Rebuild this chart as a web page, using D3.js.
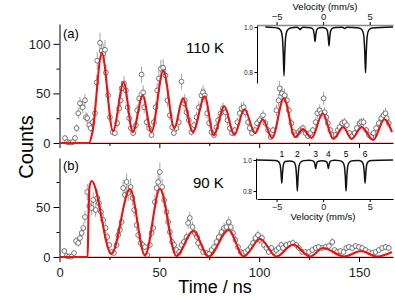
<!DOCTYPE html>
<html>
<head>
<meta charset="utf-8">
<script src="https://cdn.jsdelivr.net/npm/d3@7"></script>
<style>
  body { margin: 0; background: #fff; }
  svg { display: block; font-family: "Liberation Sans", Arial, sans-serif; }
</style>
</head>
<body>
<div id="app"></div>
<script>
// time (ns), counts - 110 K
const pointsA = [
  [2.75,5],[3.75,1],[4.75,0.5],[5.75,0.5],[6.75,1],[7.75,5],[8.6,15],[9.4,30],[10.25,40],[11.6,36],
  [12.75,43],[13.25,26],[13.9,25],[14.9,18],[15.6,15],[16.6,21],[17.75,30],[18.6,61],[18.9,83],[20.25,101],
  [21.1,93],[21.9,90],[22.75,94],[23.25,71],[24.4,48],[25.25,26],[26.6,11],[27.75,10],[28.9,20],[29.9,35],
  [30.6,43],[31.1,55],[32.25,60],[33.25,53],[34.1,36],[34.9,25],[35.75,15],[36.9,10],[38.25,18],[38.9,33],
  [39.9,45],[41.1,69],[41.9,51],[42.4,36],[43.6,21],[44.9,15],[46.1,8],[47.25,21],[48.1,36],[48.9,53],
  [49.75,65],[50.75,75],[51.9,76],[53.1,68],[54.1,43],[55.25,28],[56.4,16],[57.25,10],[58.6,15],[59.75,21],
  [61.1,62],[62.4,40],[62.75,43],[63.6,31],[64.75,23],[66.1,11],[67.4,18],[68.6,26],[69.75,36],[71.1,48],
  [71.9,51],[72.75,48],[73.9,30],[74.9,20],[76.1,11],[77.4,8],[78.6,16],[79.4,23],[80.75,30],[81.9,35],
  [83.1,31],[84.1,23],[85.25,15],[86.4,10],[87.75,13],[89.1,21],[90.25,30],[91.1,35],[92.25,36],[93.1,31],
  [94.4,21],[95.25,15],[96.4,10],[97.75,13],[98.9,20],[100.25,23],[101.9,28],[103.1,20],[104.4,13],[105.75,6],
  [106.9,13],[108.6,33],[109.75,43],[110.25,55],[111.4,50],[112.75,48],[113.9,43],[114.9,33],[116.1,20],[117.25,11],
  [118.6,8],[119.75,11],[120.6,13],[121.9,15],[123.25,10],[124.4,7],[125.6,10],[126.9,13],[128.25,21],[129.1,30],
  [130.25,33],[131.1,30],[132.25,45],[132.75,31],[133.6,26],[134.4,20],[135.6,13],[136.9,8],[138.25,8],[139.4,13],
  [140.25,16],[141.6,20],[142.75,21],[143.9,18],[145.25,10],[146.6,7],[147.75,10],[148.9,15],[150.25,20],[151.1,21],
  [152.25,21],[153.6,13],[154.9,8],[156.1,6],[157.25,10],[158.6,15],[159.9,20],[161.1,25],[162.25,28],[163.25,30],
  [163.9,25],[164.9,20]
];
// fit curve turning points, panel (a)
const fitA = [
  [0,0],[14.8,0],[16.5,11],[21.2,91],[26.8,12],[32.1,61],[36.7,11],[41.7,48],[46,11],[52,73],
  [57.5,15],[61.8,45],[66.8,11],[72.7,47],[77.2,8],[82.6,37],[87.5,8],[92.6,34],[98,10],[101.7,24],
  [106.5,5],[112.3,45],[118,6],[121.8,14],[126.3,5],[131.8,30],[137.1,4],[142.1,16],[146.3,4],[151.3,16],
  [157.1,3],[162.7,24],[166.5,11]
];
// panel (b) - 90 K
const pointsB = [
  [2.4,6],[3.6,1],[4.75,0.5],[6,0.5],[7.25,4],[8.25,16],[9.4,14],[10.25,19],[11.1,24],[11.9,29],
  [12.75,40],[13.9,65],[14.9,51],[16.1,49],[16.9,57],[18.1,47],[18.9,59],[19.75,54],[20.75,45],[21.9,37],
  [23.1,29],[23.9,20],[24.9,12],[26.1,5],[27.25,4],[28.6,12],[29.4,22],[30.25,27],[31.1,35],[31.9,69],
  [32.75,62],[33.6,75],[34.4,64],[35.6,70],[36.6,59],[37.4,47],[38.6,32],[39.4,22],[40.6,14],[41.6,12],
  [42.75,10],[43.9,2],[45.25,12],[46.1,24],[46.9,29],[47.75,55],[48.6,69],[49.4,75],[50.25,85],[51.4,70],
  [52.4,57],[53.6,45],[54.4,35],[55.25,25],[56.4,15],[57.4,12],[58.6,7],[59.9,5],[61.1,12],[62.25,15],
  [63.6,20],[64.4,34],[65.25,39],[66.6,30],[67.75,24],[68.9,20],[69.4,14],[70.75,10],[71.9,5],[73.6,4],
  [74.9,3],[76.1,7],[77.4,10],[78.6,15],[79.75,20],[81.1,25],[82.4,29],[83.6,30],[84.75,35],[85.75,30],
  [86.9,24],[88.1,17],[89.4,10],[90.75,5],[91.9,4],[93.1,5],[94.4,7],[95.75,10],[96.9,14],[98.1,19],
  [99.4,22],[100.25,17],[101.4,19],[102.4,12],[103.6,9],[104.75,5],[106.1,9],[107.4,5],[108.6,7],[109.75,9],
  [111.1,12],[111.9,9],[113.6,12],[115.25,13],[116.9,14],[118.6,12],[119.9,9],[121.6,5],[123.25,5],[124.9,5],
  [126.6,7],[128.25,9],[129.9,10],[131.6,9],[133.25,10],[134.9,11],[136.6,15],[137.75,7],[138.9,5],[140.6,6],
  [142.25,5],[143.6,9],[144.9,10],[146.6,9],[148.25,11],[149.9,10],[151.6,9],[153.25,7],[154.9,5],[156.6,4],
  [158.25,5],[159.9,7],[161.6,9],[163.25,10],[164.9,9]
];
const fitB = [
  [0,0],[14.1,0],[14.5,40],[15.0,70],[16.1,76],[26,3],[35.3,68],[42.8,1.5],[50.3,68],[58.5,1],
  [67,26],[74.7,0.5],[84.7,27],[92.2,0.5],[100.5,18],[108.6,0.5],[117,12.5],[125.5,0.5],[132,9],[142.5,0.5],
  [151,6],[159,0.5],[166.5,5]
];

// Mössbauer insets: velocity (mm/s), transmission
const specA = [
  [-6.2,1.0],[-4.9,0.996],[-4.55,0.985],[-4.38,0.956],[-4.28,0.88],[-4.2,0.782],[-4.12,0.88],[-4.02,0.956],[-3.85,0.985],[-3.5,0.996],
  [-2.85,0.999],[-2.6,0.994],[-2.48,0.988],[-2.36,0.994],[-2.1,0.999],
  [-1.4,0.997],[-1.22,0.995],[-1.05,0.987],[-0.95,0.964],[-0.87,0.935],[-0.79,0.964],[-0.69,0.987],[-0.52,0.995],
  [-0.12,0.998],[0.28,0.994],[0.45,0.983],[0.55,0.954],[0.63,0.916],[0.71,0.954],[0.81,0.983],[0.98,0.994],[1.35,0.998],
  [2.05,0.999],[2.2,0.996],[2.3,0.993],[2.4,0.996],[2.6,0.999],
  [3.85,0.996],[4.2,0.986],[4.37,0.959],[4.47,0.888],[4.55,0.797],[4.63,0.888],[4.73,0.959],[4.9,0.986],[5.25,0.996],[7.5,1.0]
];
const specB = [
  [-7.1,1.0],[-5.14,0.997],[-4.79,0.99],[-4.62,0.97],[-4.52,0.917],[-4.44,0.85],[-4.36,0.917],[-4.26,0.97],[-4.09,0.99],[-3.6,0.994],
  [-3.12,0.986],[-2.95,0.96],[-2.85,0.89],[-2.77,0.80],[-2.69,0.89],[-2.59,0.96],[-2.42,0.986],[-2.07,0.996],
  [-1.5,0.998],[-1.15,0.996],[-0.98,0.989],[-0.88,0.97],[-0.8,0.946],[-0.72,0.97],[-0.62,0.989],[-0.12,0.996],
  [0.38,0.989],[0.48,0.97],[0.56,0.946],[0.64,0.97],[0.74,0.989],[0.91,0.996],[1.26,0.998],
  [1.76,0.996],[2.11,0.986],[2.28,0.96],[2.38,0.89],[2.46,0.80],[2.54,0.89],[2.64,0.96],[2.81,0.986],[3.16,0.996],
  [3.8,0.997],[4.15,0.99],[4.32,0.97],[4.42,0.917],[4.5,0.85],[4.58,0.917],[4.68,0.97],[4.85,0.99],[5.2,0.997],[7.5,1.0]
];
const lineNames = ["1","2","3","4","5","6"];
const linePos = [-4.44,-2.77,-0.8,0.56,2.46,4.5];

const timeTicks = [0,50,100,150];
const timeMinor = [25,75,125];

const W = 395, H = 300;
const svg = d3.select("#app").append("svg").attr("width", W).attr("height", H);

const x = d3.scaleLinear().domain([0,167]).range([59.5,393]);
const yA = d3.scaleLinear().domain([0,120]).range([143,24]);
const yB = d3.scaleLinear().domain([0,99]).range([257,158]);

function panel(pts, fit, y, majorY, showLabels) {
  const g = svg.append("g");
  // error bars (poisson)
  g.selectAll("line.err").data(pts).enter().append("line")
    .attr("x1", d => x(d[0])).attr("x2", d => x(d[0]))
    .attr("y1", d => y(d[1] + Math.sqrt(d[1]))).attr("y2", d => y(Math.max(0, d[1] - Math.sqrt(d[1]))))
    .attr("stroke", "#9a9a9a").attr("stroke-width", 0.9);
  g.selectAll("circle").data(pts).enter().append("circle")
    .attr("cx", d => x(d[0])).attr("cy", d => y(d[1])).attr("r", 2.4)
    .attr("fill", "#fff").attr("stroke", "#555").attr("stroke-width", 0.8);

  // left axis
  g.append("g").attr("transform", "translate(59.5,0)")
    .call(d3.axisLeft(y).tickValues(majorY).tickSize(6).tickSizeOuter(0).tickFormat(d3.format("d")))
    .call(a => a.selectAll("text").attr("font-size", 13).attr("fill", "#222").attr("font-family", "Liberation Sans, Arial"));
  g.append("g").attr("transform", "translate(59.5,0)")
    .call(d3.axisLeft(y).tickValues([25,75]).tickSize(3).tickFormat(""))
    .call(a => a.select(".domain").remove());

  // bottom axis
  const bx = g.append("g").attr("transform", "translate(0," + y(0) + ")")
    .call(d3.axisBottom(x).tickValues(timeTicks).tickSize(5).tickSizeOuter(0).tickPadding(6)
      .tickFormat(showLabels ? d3.format("d") : ""));
  bx.selectAll("text").attr("font-size", 13).attr("fill", "#222").attr("font-family", "Liberation Sans, Arial");
  g.append("g").attr("transform", "translate(0," + y(0) + ")")
    .call(d3.axisBottom(x).tickValues(timeMinor).tickSize(3).tickFormat(""))
    .call(a => a.select(".domain").remove());

  // red zero level over the axis
  g.append("line").attr("x1", x(0)).attr("x2", x(167)).attr("y1", y(0)).attr("y2", y(0))
    .attr("stroke", "#e01010").attr("stroke-opacity", 0.55).attr("stroke-width", 1.2);

  g.append("path").datum(fit)
    .attr("d", d3.line().x(d => x(d[0])).y(d => y(d[1])).curve(d3.curveMonotoneX))
    .attr("fill", "none").attr("stroke", "#ee1111").attr("stroke-width", 2.1);
}

panel(pointsA, fitA, yA, [0,50,100], false);
panel(pointsB, fitB, yB, [0,50], true);

// panel texts
svg.append("text").attr("x", 63).attr("y", 38).attr("font-size", 13).text("(a)");
svg.append("text").attr("x", 63).attr("y", 170).attr("font-size", 13).text("(b)");
svg.append("text").attr("x", 186).attr("y", 53).attr("font-size", 15).text("110 K");
svg.append("text").attr("x", 193).attr("y", 188).attr("font-size", 15).text("90 K");
svg.append("text").attr("transform", "translate(33,147) rotate(-90)").attr("text-anchor", "middle")
  .attr("font-size", 20).text("Counts");
svg.append("text").attr("x", 215).attr("y", 293).attr("text-anchor", "middle")
  .attr("font-size", 18).text("Time / ns");

// insets
const vx = d3.scaleLinear().domain([-7.1,7.5]).range([257,393]);
const vyA = d3.scaleLinear().domain([0.751,1.009]).range([83,25]);
const vyB = d3.scaleLinear().domain([0.748,1.013]).range([199,158]);

function smallText(sel, size) {
  sel.selectAll("text").attr("font-size", size).attr("fill", "#222").attr("font-family", "Liberation Sans, Arial");
}

// inset (a): velocity axis on top
const ia = svg.append("g");
ia.append("g").attr("transform", "translate(257,0)")
  .call(d3.axisLeft(vyA).tickValues([0.8,1.0]).tickSize(2.5).tickPadding(1.5).tickSizeOuter(0).tickFormat(d3.format(".1f")))
  .call(a => smallText(a, 6.5));
ia.append("g").attr("transform", "translate(0,25)")
  .call(d3.axisTop(vx).tickValues([-5,0,5]).tickSize(3).tickPadding(2.5).tickSizeOuter(0).tickFormat(d3.format("d")))
  .call(a => smallText(a, 9.5))
  .call(a => a.select(".domain").attr("stroke", "#888").attr("stroke-width", 1.5));
ia.append("path").datum(specA)
  .attr("d", d3.line().x(d => vx(d[0])).y(d => vyA(d[1])).curve(d3.curveMonotoneX))
  .attr("fill", "none").attr("stroke", "#111").attr("stroke-width", 1.5);
ia.append("text").attr("x", 325).attr("y", 10).attr("text-anchor", "middle").attr("font-size", 9.5).text("Velocity (mm/s)");

// inset (b): velocity axis at bottom
const ib = svg.append("g");
ib.append("g").attr("transform", "translate(256,0)")
  .call(d3.axisLeft(vyB).tickValues([0.8,1.0]).tickSize(2.5).tickPadding(1.5).tickSizeOuter(0).tickFormat(d3.format(".1f")))
  .call(a => smallText(a, 6.5));
ib.append("g").attr("transform", "translate(0,199)")
  .call(d3.axisBottom(vx).tickValues([-5,0,5]).tickSize(3).tickPadding(2).tickSizeOuter(0).tickFormat(d3.format("d")))
  .call(a => smallText(a, 9));
ib.append("path").datum(specB)
  .attr("d", d3.line().x(d => vx(d[0])).y(d => vyB(d[1])).curve(d3.curveMonotoneX))
  .attr("fill", "none").attr("stroke", "#111").attr("stroke-width", 1.5);
ib.selectAll("text.ln").data(lineNames).enter().append("text")
  .attr("x", (d, i) => vx(linePos[i])).attr("y", 157).attr("text-anchor", "middle")
  .attr("font-size", 8.5).text(d => d);
ib.append("text").attr("x", 323).attr("y", 220).attr("text-anchor", "middle").attr("font-size", 9.5).text("Velocity (mm/s)");
</script>
</body>
</html>
